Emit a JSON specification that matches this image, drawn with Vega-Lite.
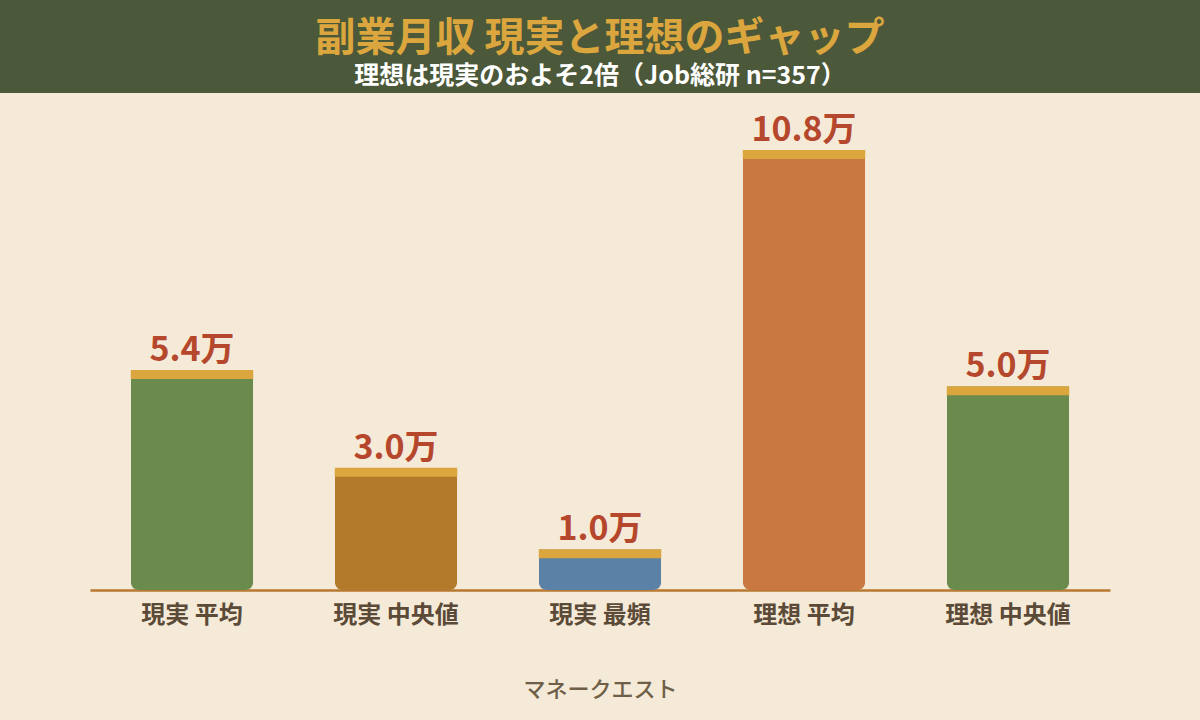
{
  "$schema": "https://vega.github.io/schema/vega-lite/v6.json",
  "background": "#f5ead8",
  "padding": {"left": 0, "right": 0, "top": 0, "bottom": 25},
  "spacing": 0,
  "center": true,
  "config": {"font": "Noto Sans CJK JP", "view": {"stroke": null}},
  "vconcat": [
    {
      "width": 1200,
      "height": 93,
      "view": {"fill": "#4b5839", "stroke": null},
      "title": {
        "text": "副業月収 現実と理想のギャップ",
        "subtitle": "理想は現実のおよそ2倍（Job総研 n=357）",
        "anchor": "middle",
        "frame": "group",
        "orient": "top",
        "offset": -89,
        "font": "Noto Sans CJK JP",
        "fontSize": 40,
        "fontWeight": "bold",
        "color": "#dba63e",
        "subtitleFont": "Noto Sans CJK JP",
        "subtitleFontSize": 25,
        "subtitleFontWeight": "bold",
        "subtitleColor": "#ffffff",
        "subtitlePadding": 5
      },
      "data": {"values": [{"t": ""}]},
      "mark": {"type": "text"},
      "encoding": {"text": {"field": "t"}}
    },
    {
      "width": 1020,
      "height": 497,
      "data": {
        "values": [
          {"cat": "現実 平均", "value": 5.4, "label": "5.4万"},
          {"cat": "現実 中央値", "value": 3.0, "label": "3.0万"},
          {"cat": "現実 最頻", "value": 1.0, "label": "1.0万"},
          {"cat": "理想 平均", "value": 10.8, "label": "10.8万"},
          {"cat": "理想 中央値", "value": 5.0, "label": "5.0万"}
        ]
      },
      "encoding": {
        "x": {
          "field": "cat",
          "type": "nominal",
          "sort": null,
          "scale": {"paddingInner": 0.4, "paddingOuter": 0.2},
          "axis": {
            "title": "マネークエスト",
            "titleFontSize": 22,
            "titleFontWeight": 500,
            "titleColor": "#6f5f48",
            "titlePadding": 52,
            "labelAngle": 0,
            "labelFontSize": 24,
            "labelFontWeight": "bold",
            "labelColor": "#5b4a37",
            "labelPadding": 13,
            "ticks": false,
            "tickSize": 0,
            "domainColor": "#b7782f",
            "domainWidth": 2.5,
            "grid": false
          }
        }
      },
      "layer": [
        {
          "mark": {"type": "bar", "cornerRadiusBottomLeft": 8, "cornerRadiusBottomRight": 8},
          "encoding": {
            "y": {"field": "value", "type": "quantitative", "scale": {"domain": [0, 12.2], "nice": false}, "axis": null},
            "color": {
              "field": "cat",
              "type": "nominal",
              "sort": null,
              "scale": {
                "domain": ["現実 平均", "現実 中央値", "現実 最頻", "理想 平均", "理想 中央値"],
                "range": ["#6b8a4e", "#b37a2c", "#5b81a6", "#c87840", "#6b8a4e"]
              },
              "legend": null
            }
          }
        },
        {
          "mark": {"type": "bar", "y2Offset": 9, "color": "#dba63e"},
          "encoding": {
            "y": {"field": "value", "type": "quantitative"},
            "y2": {"field": "value"}
          }
        },
        {
          "mark": {"type": "text", "dy": -9, "baseline": "alphabetic", "fontSize": 34, "fontWeight": "bold", "color": "#b5472c"},
          "encoding": {
            "y": {"field": "value", "type": "quantitative"},
            "text": {"field": "label"}
          }
        }
      ]
    }
  ]
}
